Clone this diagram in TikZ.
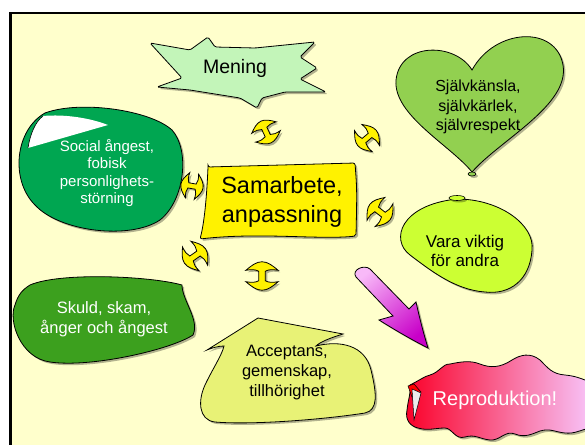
\documentclass[tikz,border=0pt]{standalone}
\usepackage{fontspec}
\setmainfont{Liberation Sans}
\usetikzlibrary{shadows}
\definecolor{cream}{RGB}{255,255,204}
\definecolor{meningc}{RGB}{195,245,185}
\definecolor{heartc}{RGB}{146,208,80}
\definecolor{socialc}{RGB}{0,166,81}
\definecolor{skuldc}{RGB}{60,160,30}
\definecolor{varac}{RGB}{204,255,51}
\definecolor{accc}{RGB}{232,242,118}
\definecolor{pinklt}{RGB}{248,185,248}
\definecolor{pinkdk}{RGB}{200,0,200}
\definecolor{repred}{RGB}{250,0,40}
\definecolor{repmid}{RGB}{222,90,222}
\definecolor{reppink}{RGB}{248,195,248}
\begin{document}
\begin{tikzpicture}[x=1pt,y=-1pt,
  shd/.style={drop shadow={shadow xshift=2pt,shadow yshift=-2pt,opacity=0.3,fill=black}},
  blob/.style={draw=black,line width=0.8pt,shd},
  txt/.style={align=center,inner sep=0pt},
  yarrowstyle/.style={fill=yellow,draw=black,line width=0.8pt,shd},
  yarrow/.pic={\path[yarrowstyle] (3.5,5) .. controls (7,7) and (11,7) .. (17,6) .. controls (11,11) and (6,15) .. (0,15) .. controls (-6,15) and (-11,11) .. (-17,6) .. controls (-11,7) and (-7,7) .. (-3.5,5) -- (-3.5,-5) .. controls (-7,-7) and (-11,-7) .. (-17,-6) .. controls (-11,-11) and (-6,-15) .. (0,-15) .. controls (6,-15) and (11,-11) .. (17,-6) .. controls (11,-7) and (7,-7) .. (3.5,-5) -- cycle;}]
\useasboundingbox (0,0) rectangle (585,444);
% background and frame
\fill[white] (0,0) rectangle (585,444);
\fill[cream] (10.5,13) rectangle (590,450);
\draw[line width=2.5pt] (10.5,450) -- (10.5,13) -- (590,13);

% Mening burst
\path[blob,fill=meningc,rounded corners=1.5pt] (150,43) -- (190,50) -- (208,37) -- (215,47) -- (255,48) -- (315,42) -- (300,57) -- (317,68) -- (300,79) -- (326,92) -- (285,92) -- (262,98) -- (257,108) -- (240,98) -- (190,90) -- (157,87) -- (182,78) -- cycle;
\node[txt,font=\fontsize{19.5}{23}\selectfont] (mening) at (235,68) {Mening};

% Heart
\path[blob,fill=heartc] (472,70) .. controls (455,42) and (400,42) .. (396,80) .. controls (393,115) and (450,145) .. (472,172) .. controls (500,140) and (570,105) .. (563,65) .. controls (556,25) and (495,28) .. (472,70) -- cycle;
\path[blob,fill=heartc,line width=0.6pt] (472,174) ellipse [x radius=4,y radius=2];
\node[txt,font=\fontsize{16}{19.5}\selectfont] (heart) at (478,107) {Självkänsla,\\självkärlek,\\självrespekt};

% Social angst
\path[blob,fill=socialc] (45,113) .. controls (80,100) and (150,110) .. (172,130) .. controls (190,150) and (185,200) .. (160,220) .. controls (130,240) and (60,232) .. (35,205) .. controls (10,180) and (15,130) .. (45,113) -- cycle;
\fill[white] (43,116) .. controls (65,114) and (90,118) .. (108,125) -- (28,148) .. controls (30,135) and (35,122) .. (43,116) -- cycle;
\draw[line width=0.6pt] (28,148) .. controls (30,135) and (35,122) .. (43,116);
\node[txt,font=\fontsize{15}{17.5}\selectfont,text=white] (social) at (107,173) {Social ångest,\\fobisk\\personlighets-\\störning};

% Center box
\path[blob,fill=yellow,rounded corners=2pt] (208,167) -- (355,163) .. controls (357,190) .. (356,236) .. controls (320,240) and (260,232) .. (200,239) .. controls (205,220) and (207,190) .. (208,167) -- cycle;
\node[txt,font=\fontsize{23.5}{28.5}\selectfont] (center) at (282,202) {Samarbete,\\anpassning};

% Vara viktig
\path[blob,fill=varac] (457,199) .. controls (500,199) and (535,225) .. (532,250) .. controls (530,280) and (510,295) .. (485,292) .. controls (455,290) and (430,270) .. (410,255) .. controls (390,240) and (400,205) .. (457,199) -- cycle;
\path[blob,fill=varac,line width=0.6pt] (457,198) ellipse [x radius=8,y radius=2.5];
\node[txt,font=\fontsize{17}{19.5}\selectfont] (vara) at (465,251) {Vara viktig\\för andra};

% Skuld
\path[blob,fill=skuldc] (30,285) .. controls (60,272) and (150,276) .. (182,285) .. controls (182,300) and (200,320) .. (193,335) .. controls (170,350) and (90,368) .. (50,362) .. controls (20,358) and (8,320) .. (15,305) .. controls (18,295) and (22,290) .. (30,285) -- cycle;
\node[txt,font=\fontsize{16.5}{19.5}\selectfont,text=white] (skuld) at (104,319) {Skuld, skam,\\ånger och ångest};

% Acceptans
\path[blob,fill=accc] (258,318) -- (343,334) .. controls (330,338) and (320,342) .. (316,346) .. controls (340,340) and (365,345) .. (371,370) .. controls (377,395) and (378,410) .. (365,413) .. controls (320,420) and (250,425) .. (215,422) .. controls (198,420) and (198,400) .. (205,385) .. controls (212,370) and (222,355) .. (224,346) .. controls (218,346) and (212,348) .. (207,350) -- cycle;
\node[txt,font=\fontsize{16.5}{20}\selectfont] (acc) at (287,373) {Acceptans,\\gemenskap,\\tillhörighet};

% Pink arrow
\path[blob,top color=pinklt,bottom color=pinkdk,shading angle=40] (356,277) .. controls (351,270) and (364,264) .. (370,269) -- (409,309) -- (416,302) .. controls (420,320) and (424,335) .. (428,348) .. controls (412,340) and (395,330) .. (379,320) -- (393,316) -- cycle;

% Reproduktion
\path[blob,left color=repred,middle color=repmid,right color=reppink] (410,385) .. controls (420,380) and (425,376) .. (430,375) .. controls (440,372) and (442,364) .. (450,364) .. controls (460,362) and (470,360) .. (480,364) .. controls (490,368) and (500,368) .. (512,360) .. controls (520,355) and (530,352) .. (540,360) .. controls (548,368) and (552,374) .. (565,375) .. controls (575,376) and (580,378) .. (590,382) -- (590,428) .. controls (580,430) and (575,434) .. (565,433) .. controls (555,432) and (550,428) .. (540,431) .. controls (532,434) and (525,438) .. (515,434) .. controls (505,430) and (500,441) .. (490,440) .. controls (480,439) and (475,434) .. (465,437) .. controls (455,440) and (452,428) .. (445,428) .. controls (435,428) and (428,431) .. (418,428) .. controls (410,426) and (405,420) .. (407,410) .. controls (408,400) and (411,393) .. (410,385) -- cycle;
\draw[fill=red,line width=0.5pt] (408,386) -- (414,384) -- (421,392) -- (412,397) -- cycle;
\draw[fill=white!85!gray,line width=0.5pt] (412,389) -- (421,393) -- (414,420) -- cycle;
\node[txt,font=\fontsize{20}{24}\selectfont,text=white] (repro) at (495,400) {Reproduktion!};

% yellow double arrows
\pic[rotate=25,scale=0.8] at (266,132) {yarrow};
\pic[rotate=-50,scale=0.8] at (367,138) {yarrow};
\pic[rotate=80,scale=0.75] at (192,186) {yarrow};
\pic[rotate=52,scale=0.85] at (380,212) {yarrow};
\pic[rotate=-55,scale=0.85] at (195,256) {yarrow};
\pic[rotate=0,scale=0.95] at (262,276) {yarrow};
\end{tikzpicture}
\end{document}
